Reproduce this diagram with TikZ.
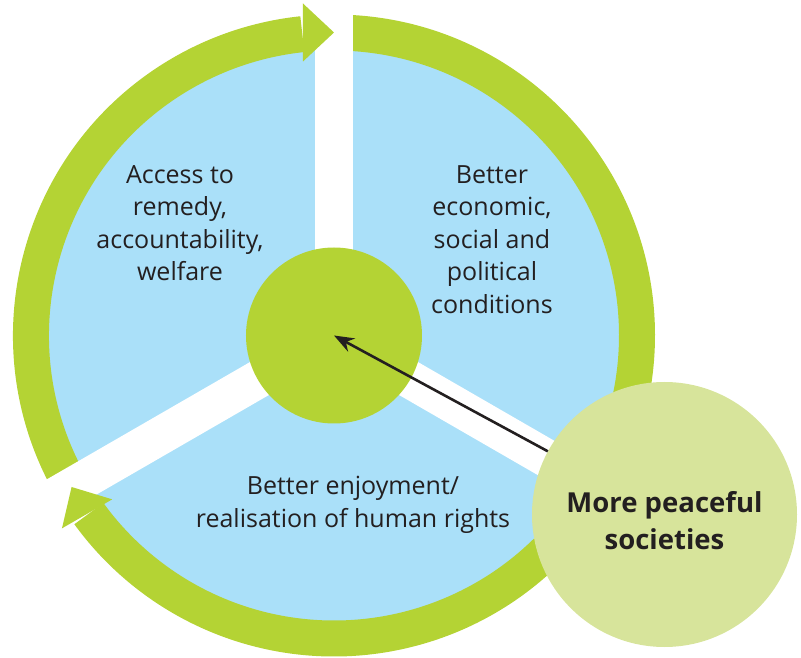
\documentclass[tikz,border=0pt]{standalone}
\usepackage{fontspec}
\setmainfont{Open Sans}
\usepackage{tikz}
\usetikzlibrary{arrows.meta}
\definecolor{RingGreen}{RGB}{180,211,52}
\definecolor{SkyBlue}{RGB}{170,224,249}
\definecolor{PaleGreen}{RGB}{215,228,155}
\definecolor{Ink}{RGB}{35,31,32}

\begin{document}
\begin{tikzpicture}[x=1pt,y=1pt]
		\tikzstyle{Sector}=[align=center,text=Ink,font=\fontsize{25}{32.5}\selectfont]
		\tikzstyle{Ring}=[draw=RingGreen,line width=36pt]
		\tikzstyle{Gap}=[draw=white,line width=38pt]
		\tikzstyle{Hub}=[circle,fill=RingGreen,minimum size=176pt,inner sep=0pt]
		\tikzstyle{Goal}=[circle,fill=PaleGreen,minimum size=265pt,inner sep=0pt]
		\tikzstyle{GoalText}=[align=center,text=Ink,font=\fontsize{27.5}{37}\selectfont\bfseries]

		\def\rDisc {288pt}
		\def\rRing {303pt}
		\def\headLen {31}
		\def\headHalf {29}

		\useasboundingbox (-334,-322.5) rectangle (467,335.5);

		\fill [SkyBlue] (0,0) circle (\rDisc);

		% ring arcs, clockwise
		\draw [Ring] (212:\rRing) arc (212:96:\rRing);
		\draw [Ring] (88:\rRing) arc (88:-30:\rRing);
		\draw [Ring] (-40:\rRing) arc (-40:-144:\rRing);

		\foreach \a in {90,210,330}
		{
			\draw [Gap] (0,0) -- (\a:330pt);
		}

		\foreach \a in {90,210}
		{
			\fill [RingGreen,shift={(\a:\rRing)},rotate=\a-90] (0,0) -- (-\headLen,\headHalf) -- (-\headLen,-\headHalf) -- cycle;
		}

		\node [Hub] (hub) at (0,0) {};

		\node [Sector] (access) at (-154,112.5) {Access to\\remedy,\\accountability,\\welfare};
		\node [Sector] (economy) at (158,96) {Better\\economic,\\social and\\political\\conditions};
		\node [Sector] (rights) at (19,-169.5) {Better enjoyment/\\realisation of human rights};

		\node [Goal] (goal) at (330.5,-179) {};
		\node [GoalText] at ([yshift=-6.5pt]goal.center) {More peaceful\\societies};

		\draw [-{Stealth[length=20pt,width=15pt]},line width=2.6pt,draw=Ink,fill=Ink] (goal) -- (hub.center);

\end{tikzpicture}
\end{document}
